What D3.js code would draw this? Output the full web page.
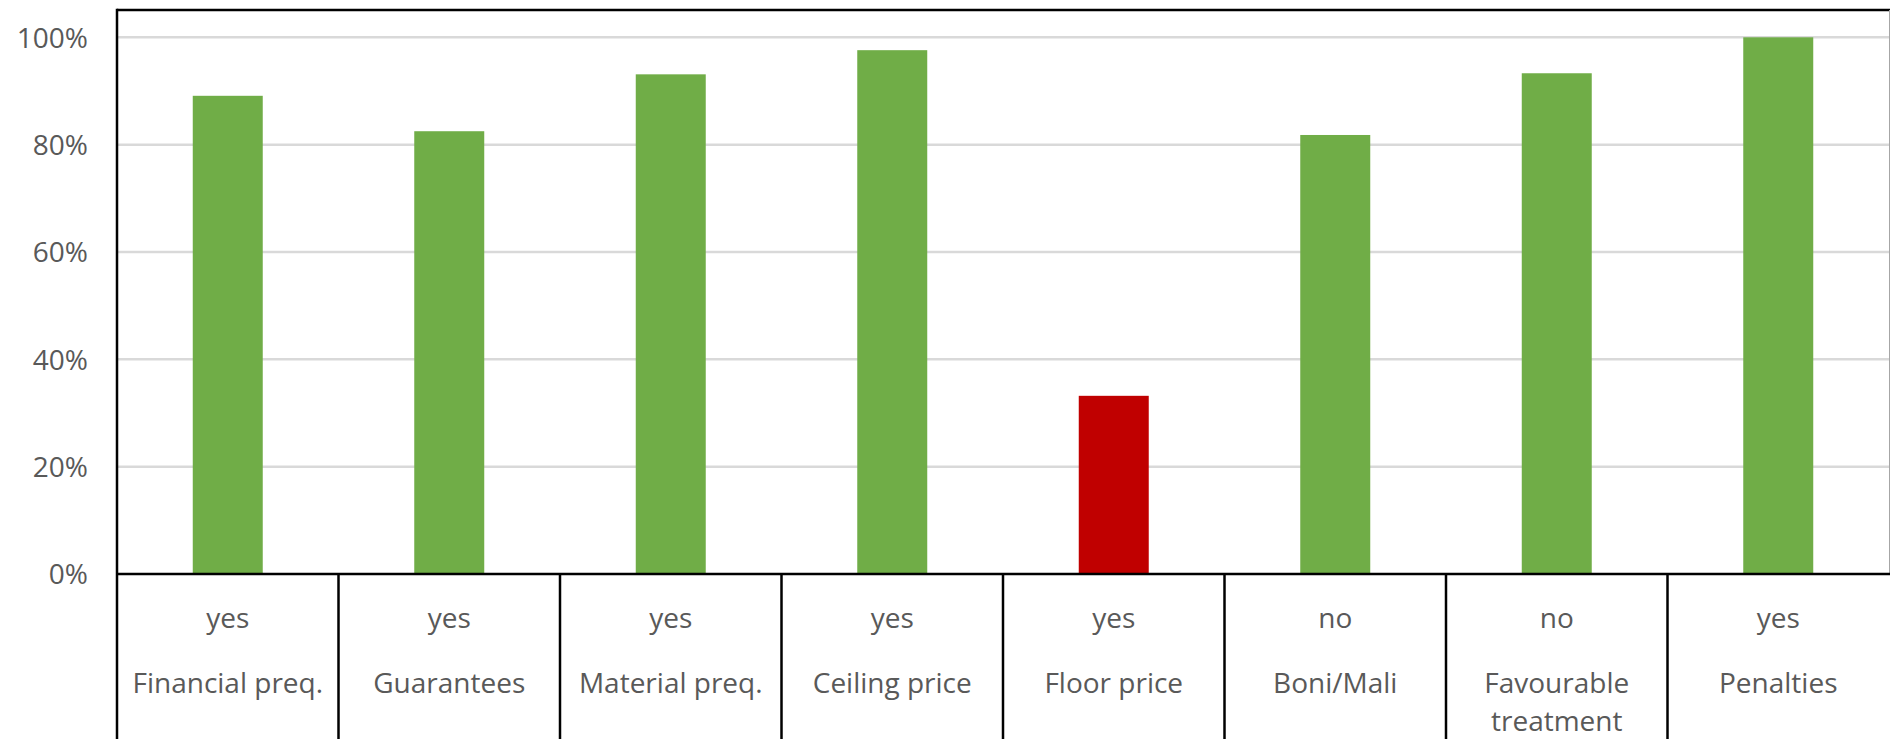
<!DOCTYPE html>
<html>
<head>
<meta charset="utf-8">
<script src="https://cdn.jsdelivr.net/npm/d3@7"></script>
<style>
  html, body { margin: 0; padding: 0; background: #fff; }
  svg { display: block; }
  text { font-family: "Open Sans", sans-serif; fill: #595959; }
</style>
</head>
<body>
<svg id="chart" width="1890" height="739"></svg>
<script>
// ---- data ----
const categories = ["Financial preq.", "Guarantees", "Material preq.", "Ceiling price", "Floor price", "Boni/Mali", "Favourable treatment", "Penalties"];
const answers = ["yes", "yes", "yes", "yes", "yes", "no", "no", "yes"];
const values = [0.891, 0.825, 0.931, 0.976, 0.332, 0.818, 0.933, 1.0];
const barColors = ["#70AD47", "#70AD47", "#70AD47", "#70AD47", "#C00000", "#70AD47", "#70AD47", "#70AD47"];
const yTicks = [0, 0.2, 0.4, 0.6, 0.8, 1.0];

(function () {
// ---- layout ----
const W = 1890, H = 739;
const xL = 117, xR = 1889, yTop = 10, yZero = 574, yOne = 37.3;
const svg = d3.select("#chart");

const x = d3.scaleBand().domain(categories).range([xL, xR]).padding(0);
const xBar = d3.scaleBand().domain(categories).range([xL, xR])
  .paddingInner(0.684).paddingOuter(0.342);
const y = d3.scaleLinear().domain([0, 1]).range([yZero, yOne]);

// gridlines
svg.append("g").selectAll("line").data(yTicks.filter(d => d > 0)).join("line")
  .attr("x1", xL).attr("x2", xR)
  .attr("y1", d => y(d)).attr("y2", d => y(d))
  .attr("stroke", "#d9d9d9").attr("stroke-width", 2.5);

// y axis labels
const yAxis = d3.axisLeft(y).tickValues(yTicks).tickFormat(d3.format(".0%")).tickSize(0).tickPadding(0);
const gy = svg.append("g").attr("transform", `translate(88,0)`).call(yAxis);
gy.select(".domain").remove();
gy.selectAll("text").attr("font-size", 28).attr("font-family", "Open Sans, sans-serif")
  .attr("fill", "#595959").attr("dy", "0.35em");

// bars
svg.append("g").selectAll("rect").data(categories).join("rect")
  .attr("x", d => xBar(d))
  .attr("width", xBar.bandwidth())
  .attr("y", (d, i) => y(values[i]))
  .attr("height", (d, i) => y(0) - y(values[i]))
  .attr("fill", (d, i) => barColors[i]);

// frame
svg.append("line").attr("x1", xL).attr("x2", W).attr("y1", yTop).attr("y2", yTop)
  .attr("stroke", "#000").attr("stroke-width", 2.5);
svg.append("line").attr("x1", xR + 0.5).attr("x2", xR + 0.5).attr("y1", yTop).attr("y2", yZero)
  .attr("stroke", "#a6a6a6").attr("stroke-width", 1);
svg.append("line").attr("x1", xL).attr("x2", xL).attr("y1", yTop - 1.25).attr("y2", H)
  .attr("stroke", "#000").attr("stroke-width", 2.5);

// axis line / table top
svg.append("line").attr("x1", xL).attr("x2", W).attr("y1", yZero).attr("y2", yZero)
  .attr("stroke", "#000").attr("stroke-width", 2.5);

// table separators
svg.append("g").selectAll("line").data(categories.slice(1)).join("line")
  .attr("x1", d => x(d)).attr("x2", d => x(d))
  .attr("y1", yZero).attr("y2", H)
  .attr("stroke", "#000").attr("stroke-width", 2.5);

// answer row
svg.append("g").selectAll("text").data(categories).join("text")
  .attr("x", d => x(d) + x.bandwidth() / 2)
  .attr("y", 628)
  .attr("text-anchor", "middle").attr("font-size", 28)
  .text((d, i) => answers[i]);

// category names with wrapping
const names = svg.append("g").selectAll("text").data(categories).join("text")
  .attr("x", d => x(d) + x.bandwidth() / 2)
  .attr("y", 693)
  .attr("text-anchor", "middle").attr("font-size", 28);

names.each(function(d) {
  const t = d3.select(this);
  const cx = x(d) + x.bandwidth() / 2;
  const maxW = x.bandwidth() - 12;
  const words = d.split(" ");
  let lines = [], cur = [];
  const probe = t.append("tspan");
  words.forEach(w => {
    const trial = cur.concat([w]).join(" ");
    probe.text(trial);
    if (probe.node().getComputedTextLength() > maxW && cur.length) {
      lines.push(cur.join(" "));
      cur = [w];
    } else {
      cur.push(w);
    }
  });
  lines.push(cur.join(" "));
  probe.remove();
  lines.forEach((ln, k) => {
    t.append("tspan").attr("x", cx).attr("dy", k === 0 ? 0 : 38).text(ln);
  });
});
})();
</script>
</body>
</html>
